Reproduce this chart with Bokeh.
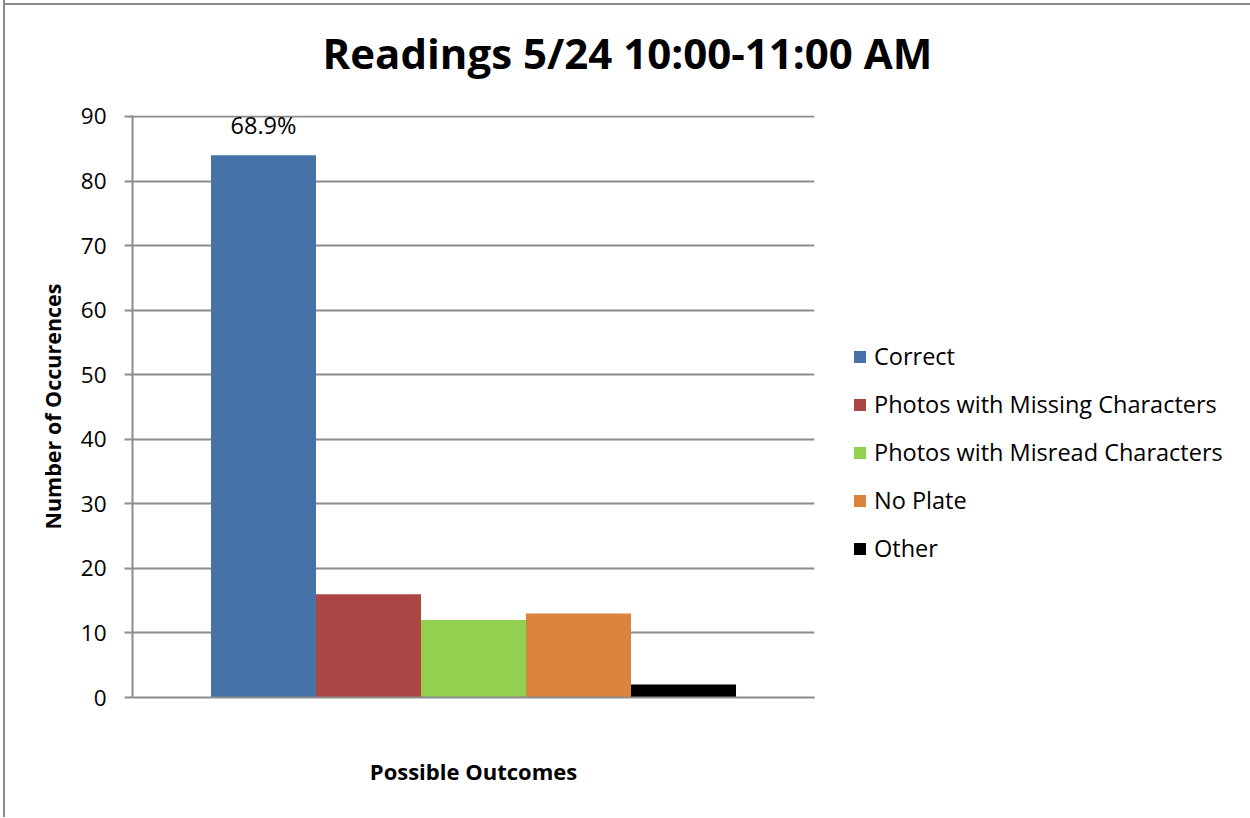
from bokeh.plotting import figure
from bokeh.models import ColumnDataSource, Range1d, SingleIntervalTicker, FixedTicker, Title
from bokeh.embed import file_html
from bokeh.resources import INLINE
from bokeh.core.properties import value

# ---- data ----
categories = ["Correct", "Photos with Missing Characters", "Photos with Misread Characters", "No Plate", "Other"]
counts = [84, 16, 12, 13, 2]
bar_labels = ["68.9%", "", "", "", ""]
colors = ["#4572A7", "#AA4643", "#92D050", "#DB843D", "#000000"]
y_max = 90

FONT = "Open Sans"
GRID = "#8C8C8C"
GAP = 0.7475  # empty space on each side of the bar group, in bar widths

pos = list(range(len(categories)))
src = ColumnDataSource(dict(x=pos, cat=categories, count=counts, lab=bar_labels, color=colors))

p = figure(
    x_range=Range1d(-0.5 - GAP, len(categories) - 0.5 + GAP),
    y_range=Range1d(0, y_max + 0.15),
    frame_width=682, frame_height=582,
    min_border_left=127, min_border_right=435, min_border_top=0, min_border_bottom=120,
    output_backend="svg", toolbar_location=None,
    margin=(-14, 0, 0, 3),
)
# chart-area frame: left/right borders, top line drawn 3px below the page top
p.styles = {"border-left": "2px solid #8C8C8C", "border-right": "2px solid #8C8C8C",
            "box-sizing": "border-box",
            "background": "linear-gradient(#8C8C8C, #8C8C8C) no-repeat 0px 17px / 100% 2px, white"}
p.outline_line_color = None
p.background_fill_color = "white"
p.border_fill_alpha = 0

t = Title(text="Readings 5/24 10:00-11:00 AM", align="left", offset=190,
          text_font=FONT, text_font_size="42px", text_font_style="bold",
          text_color="#000000", standoff=70)
p.add_layout(t, "above")

p.vbar(x="x", top="count", width=1.0, source=src, fill_color="color",
       line_color=None, legend_field="cat")
p.text(x="x", y="count", text="lab", source=src, y_offset=-14,
       text_align="center", text_baseline="bottom",
       text_font=value(FONT), text_font_size="23.5px", text_color="#000000")

# y axis
p.yaxis.ticker = SingleIntervalTicker(interval=10)
p.yaxis.axis_line_color = GRID
p.yaxis.axis_line_width = 2
p.yaxis.major_tick_line_color = GRID
p.yaxis.major_tick_line_width = 2
p.yaxis.major_tick_out = 8
p.yaxis.major_tick_in = 0
p.yaxis.minor_tick_line_color = None
p.yaxis.major_label_text_font = FONT
p.yaxis.major_label_text_font_size = "22.5px"
p.yaxis.major_label_text_color = "#000000"
p.yaxis.major_label_standoff = 18
p.yaxis.axis_label = "Number of Occurences"
p.yaxis.axis_label_text_font = FONT
p.yaxis.axis_label_text_font_size = "21.5px"
p.yaxis.axis_label_text_font_style = "bold"
p.yaxis.axis_label_text_color = "#000000"
p.yaxis.axis_label_standoff = 11

# x axis: base line and title only
p.xaxis.ticker = FixedTicker(ticks=[])
p.xaxis.axis_line_color = GRID
p.xaxis.axis_line_width = 2
p.xaxis.major_tick_line_color = None
p.xaxis.minor_tick_line_color = None
p.xaxis.axis_label = "Possible Outcomes"
p.xaxis.axis_label_text_font = FONT
p.xaxis.axis_label_text_font_size = "22px"
p.xaxis.axis_label_text_font_style = "bold"
p.xaxis.axis_label_text_color = "#000000"
p.xaxis.axis_label_standoff = 58

p.xgrid.grid_line_color = None
p.ygrid.grid_line_color = GRID
p.ygrid.grid_line_width = 2

leg = p.legend[0]
if leg in p.center:
    p.center.remove(leg)
p.add_layout(leg, "right")
leg.location = (38, 133)
leg.padding = 0
leg.margin = 0
leg.background_fill_alpha = 0
leg.border_line_color = None
leg.glyph_width = 15
leg.glyph_height = 15
leg.label_standoff = 7
leg.label_height = 32
leg.spacing = 16
leg.label_text_font = FONT
leg.label_text_font_size = "23.5px"
leg.label_text_color = "#000000"

open("out.html", "w").write(file_html(p, INLINE))
